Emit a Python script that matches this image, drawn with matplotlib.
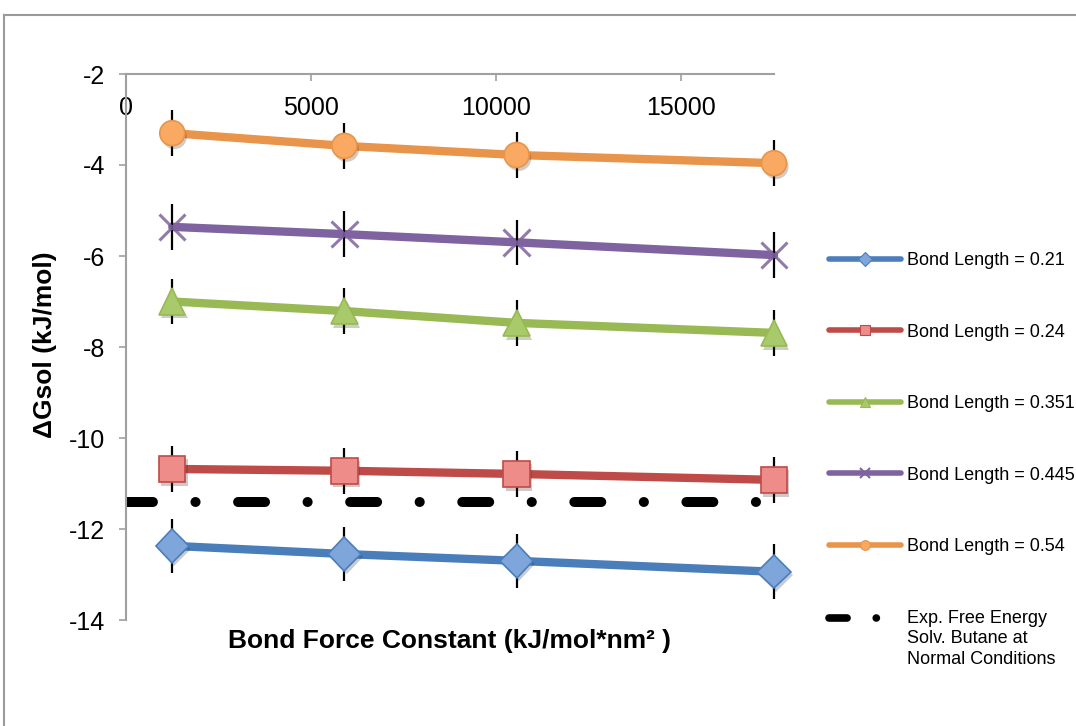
import numpy as np
import matplotlib
matplotlib.use('Agg')
import matplotlib.pyplot as plt
from matplotlib.lines import Line2D
from matplotlib.legend_handler import HandlerLine2D
import matplotlib.patheffects as pe

plt.rcParams['font.family'] = ['Liberation Sans', 'DejaVu Sans']
plt.rcParams['lines.scale_dashes'] = False

# 数据
force_const = [1250, 5900, 10550, 17500]
bl_021 = [-12.37, -12.55, -12.70, -12.94]
bl_024 = [-10.68, -10.72, -10.79, -10.92]
bl_0351 = [-7.00, -7.21, -7.47, -7.69]
bl_0445 = [-5.36, -5.52, -5.70, -5.98]
bl_054 = [-3.30, -3.58, -3.78, -3.96]
err_021 = [0.6, 0.6, 0.6, 0.6]
err_other = [0.5, 0.5, 0.5, 0.5]
exp_value = -11.4

labels = ['Bond Length = 0.21', 'Bond Length = 0.24', 'Bond Length = 0.351',
          'Bond Length = 0.445', 'Bond Length = 0.54']
exp_label = 'Exp. Free Energy\nSolv. Butane at\nNormal Conditions'
xticks = [0, 5000, 10000, 15000]
yticks = [-14, -12, -10, -8, -6, -4, -2]

series = [bl_021, bl_024, bl_0351, bl_0445, bl_054]
errors = [err_021, err_other, err_other, err_other, err_other]
line_colors = ['#4A7EBB', '#BE4B48', '#98B954', '#7F63A1', '#E8944A']
face_colors = ['#7FA6DB', '#EE8C89', '#A9CA6A', '#9C84BE', '#F9A962']
markers = ['D', 's', '^', 'x', 'o']
msizes = [17, 19, 19, 19, 18]

W, H = 1076, 726
fig = plt.figure(figsize=(W / 100, H / 100), dpi=100)
ax = fig.add_axes([126 / W, (H - 620) / H, (774 - 126) / W, (620 - 74) / H])

gray = '#A0A0A0'
shadow = [pe.SimplePatchShadow(offset=(1.5, -2.5), alpha=0.25), pe.Normal()]

for ys, es, lc, fc, m, ms in zip(series, errors, line_colors, face_colors, markers, msizes):
    ax.plot(force_const, ys, color=lc, lw=6, solid_capstyle='round', zorder=2, clip_on=False)
    ax.errorbar(force_const, ys, yerr=es, fmt='none', ecolor='black', elinewidth=1.6, zorder=3, clip_on=False)
    if m == 'x':
        ax.plot(force_const, ys, ls='none', marker=m, ms=ms, mew=2.2, color=lc, alpha=0.85,
                zorder=4, clip_on=False, path_effects=shadow)
    else:
        ax.plot(force_const, ys, ls='none', marker=m, ms=ms, mfc=fc, mec=lc, mew=1.2,
                zorder=4, clip_on=False, path_effects=shadow)

exp_line = ax.axhline(exp_value, color='black', lw=7.2, zorder=2)
exp_line.set_dashes((19.4, 30.6, 0.1, 30.6))
exp_line.set_dash_capstyle('round')

# 坐标轴：x轴放在 y=-2 处（上方），刻度标签在线下面
for s in ['top', 'right']:
    ax.spines[s].set_visible(False)
ax.spines['bottom'].set_position(('data', -2))
ax.spines['bottom'].set_color(gray)
ax.spines['left'].set_color(gray)
ax.spines['bottom'].set_linewidth(1.5)
ax.spines['left'].set_linewidth(1.5)

ax.set_xlim(0, 17500)
ax.set_ylim(-14, -2)
ax.set_xticks(xticks)
ax.set_yticks(yticks)
ax.set_xticklabels([str(t) for t in xticks])
ax.set_yticklabels([str(t) for t in yticks])
ax.tick_params(axis='x', direction='out', length=5, width=1.2, color=gray, pad=11, labelsize=18)
ax.tick_params(axis='y', direction='out', length=5, width=1.2, color=gray, pad=10, labelsize=18)

fig.text(450 / W, 1 - 641 / H, 'Bond Force Constant (kJ/mol*nm² )', fontsize=19,
         fontweight='bold', ha='center', va='center')
fig.text(45 / W, 1 - 345 / H, 'ΔGsol (kJ/mol)', fontsize=19, fontweight='bold',
         rotation=90, ha='center', va='center')


class TopLineHandler(HandlerLine2D):
    # 把多行标签的图例线移到第一行
    def create_artists(self, legend, orig_handle, xdescent, ydescent, width, height, fontsize, trans):
        arts = super().create_artists(legend, orig_handle, xdescent, ydescent, width, height, fontsize, trans)
        for a in arts:
            a.set_ydata(np.asarray(a.get_ydata()) + 1.16 * fontsize)
        return arts


handles = []
for lc, fc, m in zip(line_colors, face_colors, markers):
    handles.append(Line2D([], [], color=lc, lw=4, solid_capstyle='round', marker=m, ms=7,
                          mfc=fc, mec=lc, mew=1.5 if m == 'x' else 0.8))
exp_handle = Line2D([], [], color='black', lw=5.5, dashes=(13, 21, 0.1, 100), dash_capstyle='round')
handles.append(exp_handle)

leg = fig.legend(handles, labels + [exp_label], loc='upper left',
                 bbox_to_anchor=(829 / W, 1 - 252 / H), frameon=False, fontsize=13,
                 handlelength=4.0, handletextpad=0.3, labelspacing=3.02,
                 borderpad=0, borderaxespad=0, numpoints=1,
                 handler_map={exp_handle: TopLineHandler()})
leg.get_texts()[-1].set_linespacing(1.27)

# 外框
fig.add_artist(Line2D([4 / W, 4 / W], [0, 1 - 15 / H], transform=fig.transFigure, color='#9A9A9A', lw=1.5))
fig.add_artist(Line2D([4 / W, 1], [1 - 15 / H, 1 - 15 / H], transform=fig.transFigure, color='#9A9A9A', lw=1.5))

fig.savefig('out.png', dpi=100)
